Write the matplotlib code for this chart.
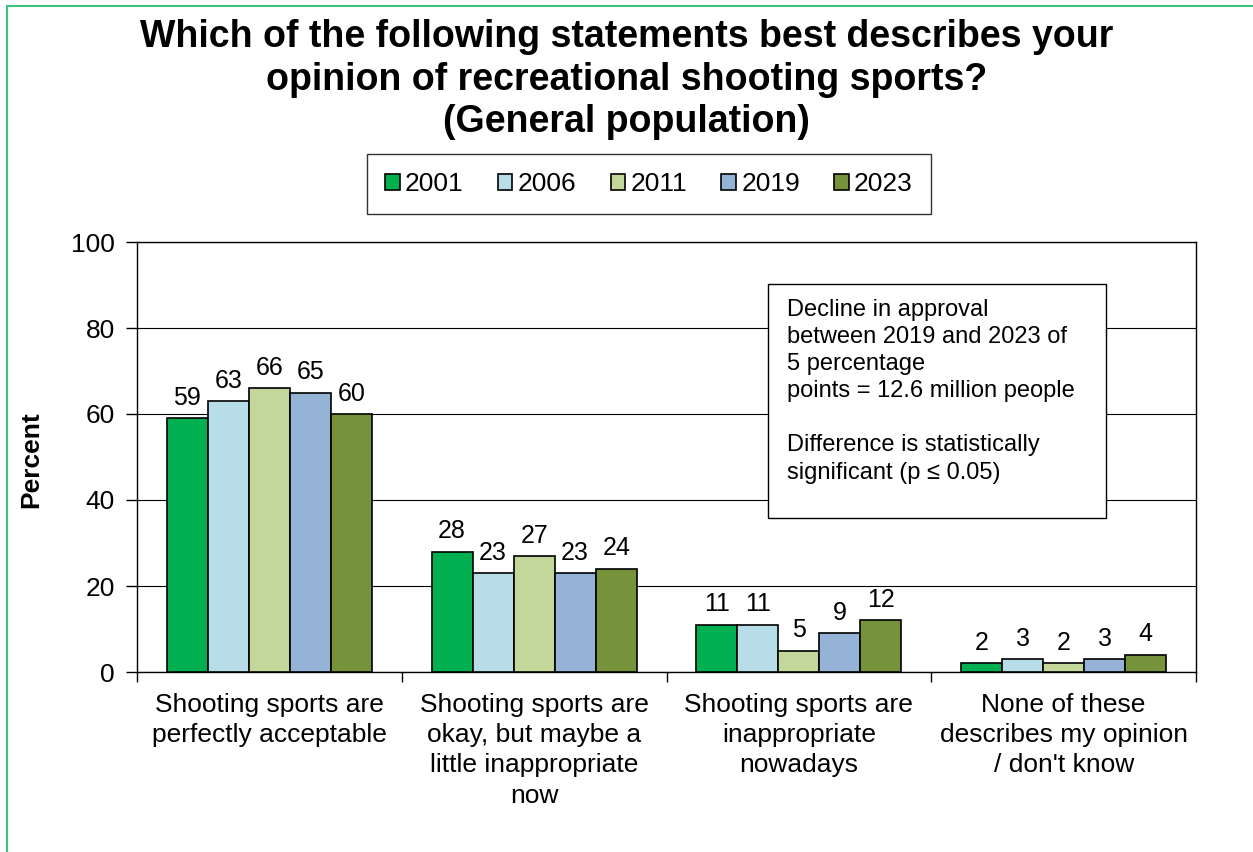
import matplotlib
matplotlib.use("Agg")
import matplotlib.pyplot as plt
import numpy as np
from matplotlib.patches import Rectangle

plt.rcParams['font.family'] = ['Liberation Sans', 'DejaVu Sans']

categories = [
    "Shooting sports are\nperfectly acceptable",
    "Shooting sports are\nokay, but maybe a\nlittle inappropriate\nnow",
    "Shooting sports are\ninappropriate\nnowadays",
    "None of these\ndescribes my opinion\n/ don't know",
]
years = ["2001", "2006", "2011", "2019", "2023"]
values_2001 = [59, 28, 11, 2]
values_2006 = [63, 23, 11, 3]
values_2011 = [66, 27, 5, 2]
values_2019 = [65, 23, 9, 3]
values_2023 = [60, 24, 12, 4]
series = [values_2001, values_2006, values_2011, values_2019, values_2023]
colors = ["#00B050", "#B7DEE8", "#C4D79B", "#95B3D7", "#76933C"]

title = ("Which of the following statements best describes your\n"
         "opinion of recreational shooting sports?\n(General population)")
note = ("Decline in approval\nbetween 2019 and 2023 of\n5 percentage\n"
        "points = 12.6 million people\n\nDifference is statistically\n"
        "significant (p \u2264 0.05)")

fig = plt.figure(figsize=(12.53, 8.52), dpi=100)
ax = fig.add_axes([137 / 1253, 1 - 672 / 852, (1196 - 137) / 1253, (672 - 242) / 852])

# outer green frame
fig.patches.append(Rectangle((7 / 1253, -0.1), 1.2, 1 - 6 / 852 + 0.1,
                             transform=fig.transFigure, fill=False,
                             edgecolor="#3CC47C", linewidth=1.5, zorder=0))

x = np.arange(len(categories))
width = 0.155
for i, (vals, col, yr) in enumerate(zip(series, colors, years)):
    pos = x + (i - 2) * width
    bars = ax.bar(pos, vals, width, color=col, edgecolor="black", linewidth=1.2,
                  label=yr, zorder=3)
    for b, v in zip(bars, vals):
        ax.annotate(str(v), (b.get_x() + b.get_width() / 2, v),
                    xytext=(0, 6), textcoords="offset points",
                    ha="center", va="bottom", fontsize=18)

ax.set_xlim(-0.5, len(categories) - 0.5)
ax.set_ylim(0, 100)
ax.set_yticks(np.arange(0, 101, 20))
ax.yaxis.grid(True, color="black", linewidth=0.8, zorder=0)
ax.set_axisbelow(True)
ax.tick_params(axis="y", direction="out", length=8, width=1, labelsize=19, pad=8)
ax.set_xticks(x)
ax.set_xticklabels(categories, fontsize=19, linespacing=1.33)
ax.tick_params(axis="x", length=0, pad=15)
ax.set_xticks(np.arange(-0.5, len(categories)), minor=True)
ax.tick_params(axis="x", which="minor", direction="out", length=7, width=1)
for s in ax.spines.values():
    s.set_linewidth(1)
ax.set_ylabel("Percent", fontsize=19, fontweight="bold")
ax.yaxis.set_label_coords(43 / 1253, 1 - 460 / 852, transform=fig.transFigure)

fig.text(0.5, 1 - 19 / 852, title, ha="center", va="top", fontsize=27,
         fontweight="bold", linespacing=1.24)

leg = fig.legend(loc="center", bbox_to_anchor=(649 / 1253, 1 - 184 / 852),
                 ncol=5, fontsize=19, frameon=True, fancybox=False,
                 handlelength=0.55, handleheight=0.55, handletextpad=0.2,
                 columnspacing=1.3, borderpad=0.7, borderaxespad=0)
leg.get_frame().set_edgecolor("black")
leg.get_frame().set_linewidth(1)

fig.text(787 / 1253, 1 - 299 / 852, note, ha="left", va="top", fontsize=17,
         linespacing=1.3, zorder=5)
fig.patches.append(Rectangle((768 / 1253, 1 - 518 / 852), (1106 - 768) / 1253,
                             (518 - 284) / 852, transform=fig.transFigure,
                             facecolor="white", edgecolor="black", linewidth=1,
                             zorder=4))

fig.savefig("out.png", dpi=100)
